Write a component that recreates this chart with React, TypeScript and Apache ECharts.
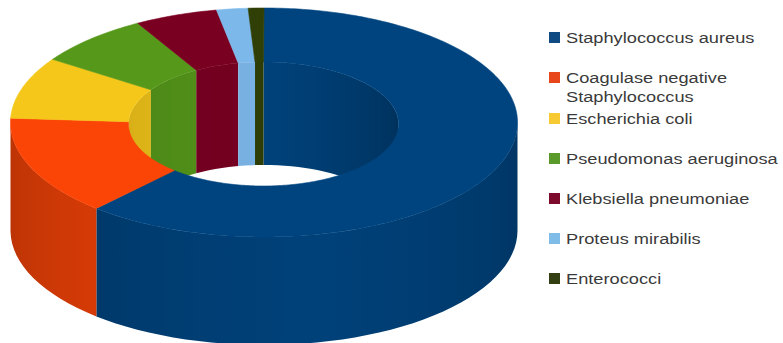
import React, { useEffect, useRef } from "react";
import * as echarts from "echarts";

// Share of isolates per organism, in percent, clockwise from twelve o'clock.
const organisms = [
  "Staphylococcus aureus",
  "Coagulase negative\nStaphylococcus",
  "Escherichia coli",
  "Pseudomonas aeruginosa",
  "Klebsiella pneumoniae",
  "Proteus mirabilis",
  "Enterococci",
];
const shares = [61.5, 14.1, 8.7, 7.4, 5.3, 2.0, 1.0];

const topColors = ["#00447f", "#fb4507", "#f5c71a", "#55981a", "#7a0022", "#7db8ea", "#2f3f06"];
const legendColors = ["#0f4a82", "#e8471c", "#f7c933", "#5a9a2a", "#7c0a2c", "#7fbde8", "#333f12"];
const legendRows = [37, 77, 118, 158, 198, 238, 278];

// Ring geometry: projected ellipses of the outer and inner rims.
const outer = { cx: 264, cy: 122.5, rx: 253.5, ry: 114.5, depth: 108 };
const inner = { cx: 263.5, cy: 124, rx: 135, ry: 62, depth: 103 };

const total = shares.reduce((a, b) => a + b, 0);
const spans = shares.map((_, i) => {
  const before = shares.slice(0, i).reduce((a, b) => a + b, 0);
  return [(before / total) * 360, ((before + shares[i]) / total) * 360];
});

type Rim = typeof outer;
const rimPoint = (r: Rim, deg: number, drop = 0): number[] => {
  const a = (deg * Math.PI) / 180;
  return [r.cx + r.rx * Math.sin(a), r.cy - r.ry * Math.cos(a) + drop];
};

const shade = (hex: string, f: number) => {
  const n = parseInt(hex.slice(1), 16);
  const c = [(n >> 16) & 255, (n >> 8) & 255, n & 255].map((v) => Math.round(v * f));
  return `rgb(${c[0]},${c[1]},${c[2]})`;
};

const outerLight = (deg: number) => 0.96 - (0.2 * Math.abs(deg - 170)) / 90;
const innerLight = (deg: number) => {
  const off = deg > 180 ? deg - 360 : deg;
  return off > 0 ? 0.97 - (0.27 * off) / 90 : 0.97 - (0.1 * -off) / 90;
};

// A curved wall between two angles, lit left to right by a gradient that follows its normal.
const wall = (rim: Rim, from: number, to: number, color: string, light: (deg: number) => number) => {
  const angles: number[] = [];
  for (let d = from; d < to; d += 3) angles.push(d);
  angles.push(to);
  const xs = angles.map((d) => rimPoint(rim, d)[0]);
  const x0 = Math.min(...xs);
  const x1 = Math.max(...xs);
  const stops = angles
    .map((d, k) => ({ offset: x1 > x0 ? (xs[k] - x0) / (x1 - x0) : 0, color: shade(color, light(d)) }))
    .sort((a, b) => a.offset - b.offset);
  const points = [
    ...angles.map((d) => rimPoint(rim, d)),
    ...angles.slice().reverse().map((d) => rimPoint(rim, d, rim.depth)),
  ];
  return {
    type: "polygon",
    silent: true,
    shape: { points },
    style: { fill: new echarts.graphic.LinearGradient(x0, 0, x1, 0, stops, true) },
  };
};

const ringItem = (layer: "inner" | "outer" | "top") => (_: any, api: any) => {
  const i = api.value(0) as number;
  const [start, end] = spans[i];
  const color = topColors[i];
  const children: any[] = [];
  if (layer === "outer") {
    // Only the half facing the viewer shows.
    const a = Math.max(start, 90);
    const b = Math.min(end, 270);
    if (b > a) children.push(wall(outer, a, b, color, outerLight));
  } else if (layer === "inner") {
    // Only the far half of the hole's wall shows.
    if (start < 90) children.push(wall(inner, start, Math.min(end, 90), color, innerLight));
    if (end > 270) children.push(wall(inner, Math.max(start, 270), end, color, innerLight));
  } else {
    const pts: number[][] = [];
    for (let d = start; d < end; d += 1) pts.push(rimPoint(outer, d));
    pts.push(rimPoint(outer, end));
    for (let d = end; d > start; d -= 1) pts.push(rimPoint(inner, d));
    pts.push(rimPoint(inner, start));
    children.push({
      type: "polygon",
      silent: true,
      shape: { points: pts },
      style: { fill: color, stroke: color, lineWidth: 0.6 },
    });
  }
  return { type: "group", children };
};

const ringSeries = (layer: "inner" | "outer" | "top", z: number) => ({
  type: "custom",
  coordinateSystem: "none",
  silent: true,
  z,
  data: shares.map((v, i) => [i, v]),
  renderItem: ringItem(layer),
});

const legendGraphics = organisms.flatMap((name, i) => [
  {
    type: "rect",
    silent: true,
    shape: { x: 549, y: legendRows[i] - 5, width: 11, height: 11 },
    style: { fill: legendColors[i] },
  },
  {
    type: "text",
    silent: true,
    x: 566,
    y: legendRows[i] - 8,
    scaleX: 1.215,
    style: {
      text: name,
      fill: "#3a3a3a",
      font: '15px "Liberation Sans", Arial, sans-serif',
      lineHeight: 19,
      textVerticalAlign: "top",
    },
  },
]);

export default function App() {
  const ref = useRef<HTMLDivElement>(null);
  useEffect(() => {
    const chart = echarts.init(ref.current!, undefined, { renderer: "svg" });
    chart.setOption({
      animation: false,
      backgroundColor: "#ffffff",
      series: [ringSeries("inner", 1), ringSeries("outer", 2), ringSeries("top", 3)],
      graphic: legendGraphics,
    });
    return () => chart.dispose();
  }, []);
  return (
    <div
      ref={ref}
      style={{ position: "absolute", left: 0, top: 0, width: 783, height: 343 }}
    />
  );
}
